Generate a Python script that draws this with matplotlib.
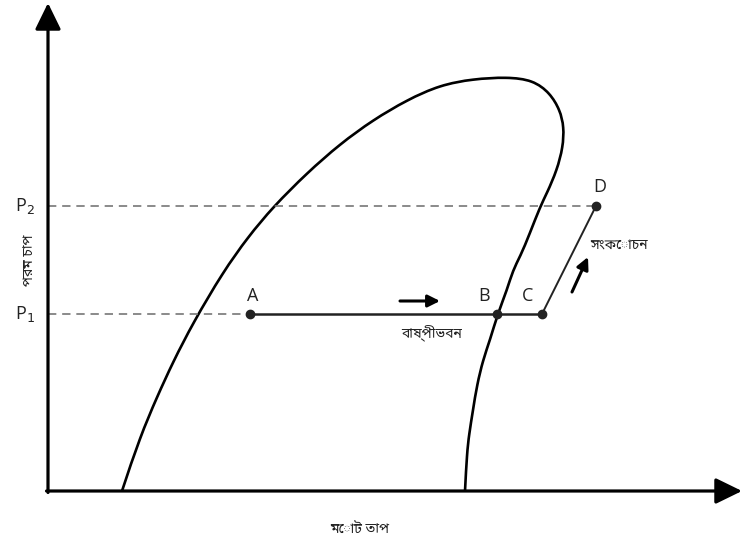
import matplotlib
matplotlib.use("Agg")
import matplotlib.pyplot as plt
from matplotlib.path import Path
from matplotlib.patches import PathPatch

plt.rcParams['font.family'] = ['Open Sans', 'Noto Sans Bengali', 'Lohit Bengali', 'FreeSans', 'Noto Sans', 'DejaVu Sans']

# saturation dome (enthalpy h, pressure p) in chart units
dome_h = [74, 92, 109, 125, 145, 175, 200, 225, 259, 292, 325, 359, 392, 425, 459, 485, 502, 512,
          516, 515, 509, 499, 492, 482, 472, 465, 459, 450, 442, 435, 429, 425, 421, 419, 417]
dome_p = [0, 54, 94, 129, 168, 219, 254, 284, 318, 347, 371, 391, 406, 412, 414, 411, 398, 381,
          364, 344, 321, 298, 284, 258, 234, 221, 201, 178, 151, 131, 106, 81, 56, 38, 0]

# cycle points
point_names = ['A', 'B', 'C', 'D']
point_h = [202, 449, 494, 548]
point_p = [177, 177, 177, 285]
P1, P2 = 177, 285
pressure_labels = ['P$_1$', 'P$_2$']

x_label = 'মোট তাপ'
y_label = 'পরম চাপ'
evap_label = 'বাষ্পীভবন'
comp_label = 'সংকোচন'

fig = plt.figure(figsize=(7.41, 5.46), dpi=100)
ax = fig.add_axes([0, 0, 1, 1])
ax.set_xlim(-48, 693)
ax.set_ylim(-55, 491)
ax.axis('off')

# axes with arrows
arrow_style = '-|>,head_length=0.45,head_width=0.22'
ax.annotate('', xy=(0, 488), xytext=(0, -1.5), annotation_clip=False,
            arrowprops=dict(arrowstyle=arrow_style, lw=2.3,
                            color='black', mutation_scale=36, shrinkA=0, shrinkB=0))
ax.annotate('', xy=(694, 0), xytext=(-1.5, 0), annotation_clip=False,
            arrowprops=dict(arrowstyle=arrow_style, lw=2.3,
                            color='black', mutation_scale=36, shrinkA=0, shrinkB=0))

# dome: the read points are used as control points of a smooth cubic B-spline path
ctrl = [(dome_h[0], dome_p[0])] * 2 + list(zip(dome_h, dome_p)) + [(dome_h[-1], dome_p[-1])] * 2
verts = [ctrl[0]]
codes = [Path.MOVETO]
for i in range(len(ctrl) - 3):
    P0, P1c, P2c, P3 = ctrl[i], ctrl[i + 1], ctrl[i + 2], ctrl[i + 3]
    b0 = ((P0[0] + 4 * P1c[0] + P2c[0]) / 6, (P0[1] + 4 * P1c[1] + P2c[1]) / 6)
    b1 = ((2 * P1c[0] + P2c[0]) / 3, (2 * P1c[1] + P2c[1]) / 3)
    b2 = ((P1c[0] + 2 * P2c[0]) / 3, (P1c[1] + 2 * P2c[1]) / 3)
    b3 = ((P1c[0] + 4 * P2c[0] + P3[0]) / 6, (P1c[1] + 4 * P2c[1] + P3[1]) / 6)
    if i == 0:
        verts[0] = b0
    verts += [b1, b2, b3]
    codes += [Path.CURVE4] * 3
ax.add_patch(PathPatch(Path(verts, codes), fill=False, edgecolor='black', lw=1.9, capstyle='butt'))

# dashed pressure lines
ax.plot([0, point_h[0]], [P1, P1], color='#777777', lw=1.2, ls=(0, (5, 3.5)))
ax.plot([0, point_h[3]], [P2, P2], color='#777777', lw=1.2, ls=(0, (5, 3.5)))

# process lines
ax.plot(point_h[:3], point_p[:3], color='#222222', lw=1.8)
ax.plot(point_h[2:], point_p[2:], color='#222222', lw=1.4)
ax.plot(point_h, point_p, 'o', color='#222222', ms=6, ls='none')

# pressure labels
ax.text(-23, P1, pressure_labels[0], fontsize=13, ha='center', va='center', color='#222222')
ax.text(-23, P2, pressure_labels[1], fontsize=13, ha='center', va='center', color='#222222')

# point labels
label_offsets = [(3, 18), (-13, 18), (-14, 18), (4, 19)]
for name, h, p, (dx, dy) in zip(point_names, point_h, point_p, label_offsets):
    ax.text(h + dx, p + dy, name, fontsize=13, ha='center', va='center', color='#222222')

# direction arrows
ax.annotate('', xy=(392, 190), xytext=(352, 190),
            arrowprops=dict(arrowstyle='-|>,head_length=0.6,head_width=0.3', lw=2.2,
                            color='black', mutation_scale=12, shrinkA=0, shrinkB=0))
ax.annotate('', xy=(540, 234), xytext=(524, 199),
            arrowprops=dict(arrowstyle='-|>,head_length=0.6,head_width=0.3', lw=2.2,
                            color='black', mutation_scale=12, shrinkA=0, shrinkB=0))

# text labels
ax.text(384, 157, evap_label, fontsize=10, ha='center', va='center', color='#222222')
ax.text(571, 246, comp_label, fontsize=10, ha='center', va='center', color='#222222')
ax.text(312, -38, x_label, fontsize=10, ha='center', va='center', color='#222222')
ax.text(-19, 231, y_label, fontsize=10, ha='center', va='center', rotation=90, color='#222222')

fig.savefig('out.png', dpi=100)
